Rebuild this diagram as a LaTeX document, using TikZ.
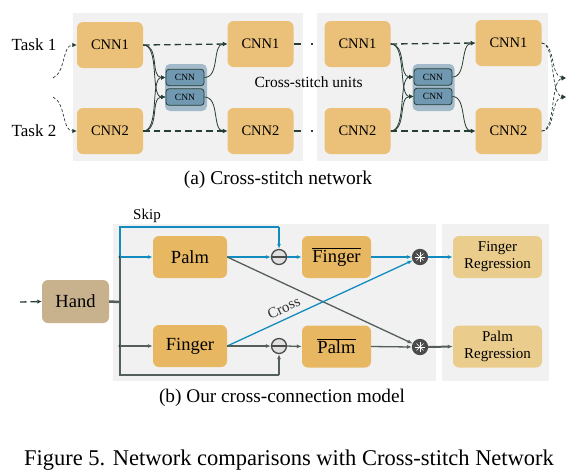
\documentclass[tikz,border=0pt]{standalone}
\usepackage{fontspec}
\setmainfont{Liberation Serif}
\usepackage{tikz}
\usetikzlibrary{positioning}
\usetikzlibrary{arrows.meta}

\definecolor{PanelGray}{RGB}{241,241,241}
\definecolor{CnnOrange}{RGB}{235,192,120}
\definecolor{BoxOrange}{RGB}{232,183,98}
\definecolor{RegTan}{RGB}{234,205,140}
\definecolor{HandTan}{RGB}{200,178,142}
\definecolor{StitchBack}{RGB}{162,186,202}
\definecolor{StitchFill}{RGB}{112,152,176}
\definecolor{DarkGreen}{RGB}{38,62,52}
\definecolor{LinkBlue}{RGB}{18,140,190}
\definecolor{LinkGray}{RGB}{85,95,90}
\definecolor{OpGray}{RGB}{75,75,75}

\tikzset{
  cnnbox/.style={fill=CnnOrange, rounded corners=6pt, minimum width=66pt, minimum height=46pt, inner sep=0pt, font=\fontsize{14.5}{16}\selectfont},
  stitchbox/.style={draw=DarkGreen, fill=StitchFill, rounded corners=3pt, line width=0.8pt, minimum width=38pt, minimum height=16.5pt, inner sep=0pt, font=\fontsize{9.5}{10}\selectfont},
  stitchback/.style={fill=StitchBack, rounded corners=5pt, minimum width=42pt, minimum height=47pt},
  partbox/.style={fill=BoxOrange, rounded corners=6pt, minimum width=74pt, minimum height=42pt, inner sep=0pt, font=\fontsize{18.5}{20}\selectfont},
  regbox/.style={fill=RegTan, rounded corners=6pt, minimum width=89pt, minimum height=42pt, inner sep=0pt, align=center, font=\fontsize{15}{17}\selectfont},
  minusop/.style={circle, draw=OpGray, fill=black!12, line width=1.3pt, minimum size=15pt, inner sep=0pt},
  timesop/.style={circle, draw=OpGray, fill=OpGray, line width=1.3pt, minimum size=15pt, inner sep=0pt,
    path picture={\foreach \a in {0,45,90,135}
      \draw[white, line width=0.5pt] ([shift={(\a:5)}]path picture bounding box.center) -- ([shift={(\a+180:5)}]path picture bounding box.center);}},
  dashlink/.style={DarkGreen, line width=1.3pt, dash pattern=on 6.5pt off 4pt, -{Latex[length=4.5pt,width=4.5pt]}},
  thinlink/.style={DarkGreen, line width=0.8pt, -{Latex[length=4.5pt,width=4.5pt]}},
  bluelink/.style={LinkBlue, line width=1.3pt, -{Latex[length=5pt,width=4pt]}},
  graylink/.style={LinkGray, line width=1.3pt, -{Latex[length=5pt,width=4pt]}},
}

\begin{document}
\begin{tikzpicture}[x=1pt, y=-1pt]
  \useasboundingbox (0,0) rectangle (580,475);
  % panels %
  \fill[PanelGray] (73,13) rectangle (303,161);
  \fill[PanelGray] (317,13) rectangle (548,161);
  \fill[PanelGray] (113,224) rectangle (436,381);
  \fill[PanelGray] (442,224) rectangle (549,381);

  % (a) cross-stitch network %
  \node[font=\fontsize{17}{19}\selectfont] (task1) at (34,45) {Task 1};
  \node[font=\fontsize{17}{19}\selectfont] (task2) at (34,131) {Task 2};
  \coordinate (in1) at (53,78);
  \coordinate (in2) at (53,97);
  \node[cnnbox] (a1) at (110,45) {CNN1};
  \node[cnnbox] (a2) at (110,131) {CNN2};
  \node[stitchback] (sa) at (186,87.5) {};
  \node[stitchbox] (sa1) at (185,77.5) {CNN};
  \node[stitchbox] (sa2) at (185,97) {CNN};
  \node[cnnbox] (b1) at (260.5,44) {CNN1};
  \node[cnnbox] (b2) at (260.5,131) {CNN2};
  \node[anchor=west, font=\fontsize{15.5}{17}\selectfont] (units) at (251,82) {Cross-stitch units};
  \node[cnnbox] (c1) at (357.5,44) {CNN1};
  \node[cnnbox] (c2) at (357.5,131) {CNN2};
  \node[stitchback] (sb) at (433.5,87.5) {};
  \node[stitchbox] (sb1) at (433,77) {CNN};
  \node[stitchbox] (sb2) at (433,96.5) {CNN};
  \node[cnnbox] (d1) at (508.5,43) {CNN1};
  \node[cnnbox] (d2) at (508.5,131) {CNN2};
  \coordinate (out1) at (566,78);
  \coordinate (out2) at (566,97);
  \coordinate (gap1) at (313,44);
  \coordinate (gap2) at (313,131);

  \draw[dashlink, line width=0.7pt, dash pattern=on 3pt off 2pt] (in1) .. controls (66,72) and (62,45) .. (a1.west);
  \draw[dashlink, line width=0.7pt, dash pattern=on 3pt off 2pt] (in2) .. controls (66,103) and (62,131) .. (a2.west);
  \draw[thinlink] (a1.east) .. controls (160,45) and (150,77.5) .. (sa1.west);
  \draw[thinlink] (a1.east) .. controls (160,45) and (150,97) .. (sa2.west);
  \draw[thinlink] (a2.east) .. controls (160,131) and (150,77.5) .. (sa1.west);
  \draw[thinlink] (a2.east) .. controls (160,131) and (150,97) .. (sa2.west);
  \draw[thinlink] (sa1.east) .. controls (220,77.5) and (212,44) .. (b1.west);
  \draw[thinlink] (sa2.east) .. controls (220,97) and (212,131) .. (b2.west);
  \draw[dashlink] (a1.east) -- (b1.west);
  \draw[dashlink] (a2.east) -- (b2.west);
  \draw[dashlink, -, dash pattern=on 7pt off 10pt on 2pt off 9pt] (b1.east) -- (gap1);
  \draw[dashlink, -, dash pattern=on 7pt off 10pt on 2pt off 9pt] (b2.east) -- (gap2);

  \draw[thinlink] (c1.east) .. controls (407,44) and (398,77) .. (sb1.west);
  \draw[thinlink] (c1.east) .. controls (407,44) and (398,96.5) .. (sb2.west);
  \draw[thinlink] (c2.east) .. controls (407,131) and (398,77) .. (sb1.west);
  \draw[thinlink] (c2.east) .. controls (407,131) and (398,96.5) .. (sb2.west);
  \draw[thinlink] (sb1.east) .. controls (467,77) and (460,44) .. (d1.west);
  \draw[thinlink] (sb2.east) .. controls (467,96.5) and (460,131) .. (d2.west);
  \draw[dashlink] (c1.east) -- (d1.west);
  \draw[dashlink] (c2.east) -- (d2.west);

  \draw[dashlink, line width=0.7pt, dash pattern=on 3pt off 2pt] (d1.east) .. controls (556,45) and (550,76) .. (out1);
  \draw[dashlink, line width=0.7pt, dash pattern=on 3pt off 2pt] (d1.east) .. controls (556,45) and (550,95) .. (out2);
  \draw[dashlink, line width=0.7pt, dash pattern=on 3pt off 2pt] (d2.east) .. controls (556,131) and (550,80) .. (out1);
  \draw[dashlink, line width=0.7pt, dash pattern=on 3pt off 2pt] (d2.east) .. controls (556,131) and (550,99) .. (out2);

  \node[font=\fontsize{19.5}{21}\selectfont] (capa) at (278,180) {(a) Cross-stitch network};

  % (b) cross-connection model %
  \node[partbox, fill=HandTan, minimum width=67pt, minimum height=43pt] (hand) at (75.5,301.5) {Hand};
  \coordinate (hin) at (20,302);
  \coordinate (trunk) at (120,302);
  \coordinate (jp) at (120,257);
  \coordinate (jf) at (120,346);
  \coordinate (skiptop) at (120,227);
  \coordinate (skipend) at (279,227);
  \coordinate (loopbot) at (120,375);
  \coordinate (loopend) at (279,375);
  \node[partbox] (palm) at (190,257) {Palm};
  \node[partbox] (finger) at (190,346) {Finger};
  \node[minusop] (m1) at (279,257) {};
  \node[minusop] (m2) at (279,346) {};
  \node[partbox, minimum width=69pt] (fbar) at (336.5,257) {$\overline{\mbox{Finger}}$};
  \node[partbox, minimum width=69pt] (pbar) at (336.5,346.5) {$\overline{\mbox{Palm}}$};
  \node[timesop] (o1) at (420,257) {};
  \node[timesop] (o2) at (420,347) {};
  \node[regbox] (freg) at (497.5,257) {Finger\\Regression};
  \node[regbox] (preg) at (497.5,346.5) {Palm\\Regression};
  \node[font=\fontsize{15}{17}\selectfont] (skip) at (147,216) {Skip};

  \draw[OpGray, line width=1.3pt] (m1.west) -- (m1.east);
  \draw[OpGray, line width=1.3pt] (m2.west) -- (m2.east);

  \draw[dashlink] (hin) -- (hand.west);
  \draw[LinkGray, line width=2.5pt] (hand.east) -- (trunk);
  \draw[LinkBlue, line width=1.3pt] (jp) -- (skiptop) -- (skipend);
  \draw[bluelink] (skipend) -- (m1.north);
  \draw[LinkGray, line width=1.3pt] (jp) -- (loopbot) -- (loopend);
  \draw[graylink] (loopend) -- (m2.south);
  \fill[DarkGreen] (jp) circle (1.6pt) (jf) circle (1.6pt);

  \draw[bluelink] (jp) -- (palm.west);
  \draw[bluelink] (palm.east) -- (m1.west);
  \draw[bluelink] (m1.east) -- (fbar.west);
  \draw[bluelink] (fbar.east) -- (o1.west);
  \draw[graylink] (palm.east) -- (o2);
  \draw[bluelink] (finger.east) -- node[pos=0.33, sloped, above=2pt, text=black!80, font=\fontsize{15}{17}\selectfont] (crosslabel) {Cross} (o1);
  \draw[bluelink] (o1.east) -- (freg.west);

  \draw[graylink] (jf) -- (finger.west);
  \draw[graylink] (finger.east) -- (m2.west);
  \draw[graylink] (m2.east) -- (pbar.west);
  \draw[graylink] (pbar.east) -- (o2.west);
  \draw[graylink, line width=2pt] (o2.east) -- (preg.west);

  \node[font=\fontsize{19.3}{21}\selectfont] (capb) at (282,398) {(b) Our cross-connection model};

  % figure caption %
  \node[font=\fontsize{22.5}{24}\selectfont] (fig) at (289,460) {Figure 5. Network comparisons with Cross-stitch Network};
\end{tikzpicture}
\end{document}
